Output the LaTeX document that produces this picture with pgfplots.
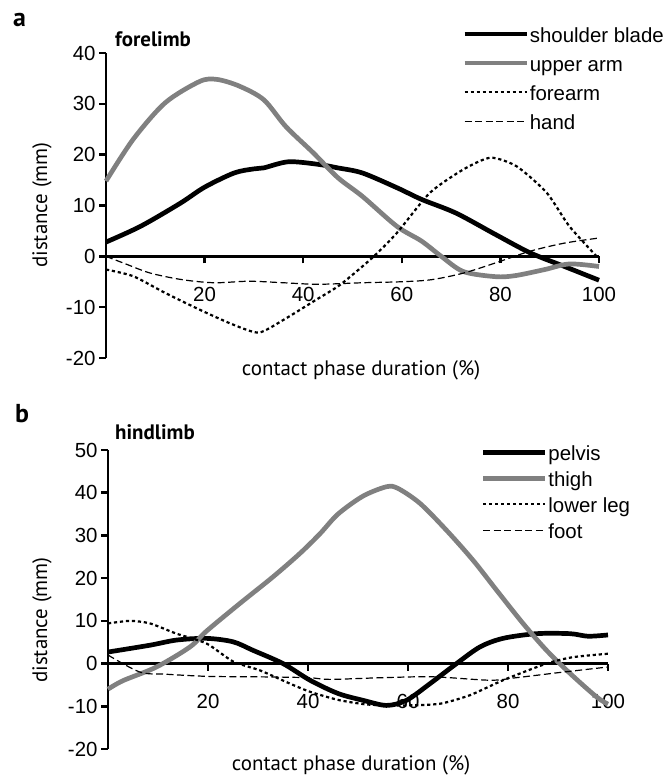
\documentclass[border=0pt]{standalone}
\usepackage{pgfplots}
\pgfplotsset{compat=1.18}
\usepackage{fontspec}
\setmainfont{Liberation Sans}
\newfontfamily\myr{PT Sans}
\definecolor{ugray}{RGB}{128,128,128}
\pgfplotsset{
  limbaxis/.style={
    scale only axis, clip=false,
    axis y line=left, axis x line=middle,
    axis line style={line width=2.5bp,-},
    tick align=outside, major tick length=7bp,
    tick style={line width=2.5bp, black},
    ticklabel style={font=\fontsize{20.5}{24}\selectfont},
    xtick={20,40,60,80,100}, xticklabels={20,40,60,80,100},
    xticklabel style={yshift=-20bp},
    xmin=0, xmax=100,
    legend image code/.code={\draw[##1] (0bp,3.5bp) -- (62bp,3.5bp);},
    legend cell align=left,
    legend style={draw=none, fill=none, anchor=north west,
      font=\fontsize{20.5}{24}\selectfont, inner sep=0pt, row sep=7bp,
      nodes={inner sep=1bp, text height=15bp, text depth=5bp}},
  },
  thickblack/.style={black, line width=4.7bp, smooth, tension=0.5},
  thickgray/.style={ugray, line width=4.7bp, smooth, tension=0.5},
  dotline/.style={black, line width=2.2bp, dash pattern=on 3.2bp off 2.8bp, smooth, tension=0.4},
  dashline/.style={black, line width=1.2bp, dash pattern=on 7bp off 3.5bp, smooth, tension=0.5},
}
\begin{document}
\begin{tikzpicture}[x=1bp,y=1bp]
\useasboundingbox (0,0) rectangle (671,777);
% ---------------- panel a
\begin{axis}[limbaxis, at={(106bp,419bp)}, anchor=south west,
  width=493bp, height=305bp, ymin=-20, ymax=40,
  ytick={-20,-10,0,10,20,30,40}, yticklabels={-20,-10,0,10,20,30,40},
  legend style={at={(axis description cs:0.722,1.087)}}]
\addplot[thickblack] coordinates {(0,2.8) (7,5.9) (15,10.4) (20,13.6) (26,16.4) (30,17.2) (32,17.4) (37,18.6) (43,18.1) (47,17.4) (52,16.4) (59,13.5) (64,11.2) (71,8.5) (79,4.3) (86,0.7) (93,-2) (100,-4.7)};
\addlegendentry{shoulder blade}
\addplot[thickgray] coordinates {(0,14.8) (5.5,23) (12,30.2) (19,34.4) (22.5,34.8) (27,33.5) (32,30.8) (36.5,25.5) (42,20.4) (47,15.5) (52,11.8) (59,5.9) (64,3) (68,0) (72.5,-3) (79,-4) (83,-3.8) (89,-2.6) (94,-1.5) (100,-2)};
\addlegendentry{upper arm}
\addplot[dotline] coordinates {(0,-2.6) (5.5,-3.9) (12,-7.2) (19,-10.5) (25.7,-13.4) (31,-15) (36,-12.5) (42.7,-8.5) (47.5,-5.6) (54,-0.3) (59,4.6) (65.7,12.5) (72.5,17.1) (78,19.4) (83.3,17.7) (89.4,12.5) (94,5.9) (100,-0.5)};
\addlegendentry{forearm}
\addplot[dashline] coordinates {(0,0) (4,-1.5) (9,-3.3) (15.5,-4.6) (22,-5.2) (29,-4.9) (36,-5.2) (43,-5.5) (52,-5.2) (60,-5) (66,-4.6) (72.5,-3.3) (79,-1.3) (86,1) (93,2.6) (100,3.6)};
\addlegendentry{hand}
\end{axis}
% ---------------- panel b
\begin{axis}[limbaxis, at={(108bp,28bp)}, anchor=south west,
  width=500bp, height=299bp, ymin=-20, ymax=50,
  ytick={-20,-10,0,10,20,30,40,50}, yticklabels={-20,-10,0,10,20,30,40,50},
  legend style={at={(axis description cs:0.745,1.018)}, row sep=4bp}]
\addplot[thickblack] coordinates {(0,2.7) (8.4,4.3) (13.7,5.5) (19.7,5.9) (25,5.1) (29,3.1) (35,0) (40.4,-3.9) (46,-7) (51,-8.6) (55.7,-9.8) (59.7,-8.6) (64.4,-4.7) (69.7,0) (74.4,3.9) (79,5.9) (85.7,7) (92.4,7) (96,6.4) (100,6.7)};
\addlegendentry{pelvis}
\addplot[thickgray] coordinates {(0,-6) (3,-4) (9.7,-0.8) (16.4,3.9) (19.7,7.6) (26.4,14.1) (33,20.3) (38.4,25.8) (42.4,30.4) (46,35) (51,39.2) (55.7,41.4) (58,41) (62.4,37.5) (67.7,31.2) (73,24.2) (77.7,17.2) (83,9.4) (87.7,3.1) (92.4,-2.3) (97.7,-7.8) (100,-9.5)};
\addlegendentry{thigh}
\addplot[dotline] coordinates {(0,9.4) (4.4,10) (8.4,9.4) (13.7,7) (19.7,4.7) (25,0.5) (30.4,-1.6) (36.4,-4.7) (40.4,-6.6) (46,-8.5) (52,-9.6) (59.7,-9.8) (66.4,-9.4) (72.4,-7.4) (79,-3.9) (87.7,0) (93,1.5) (100,2.3)};
\addlegendentry{lower leg}
\addplot[dashline] coordinates {(0,2) (6.4,-2) (11.7,-2.5) (20,-3) (30,-3.1) (40,-3.3) (44.4,-3.7) (55,-3.3) (65,-3.1) (76.4,-3.9) (81.7,-3.3) (91,-2) (100,-0.8)};
\addlegendentry{foot}
\end{axis}
% ---------------- texts
\node[anchor=base west, font=\myr\bfseries\fontsize{26}{28}\selectfont, inner sep=0] at (13,750) {a};
\node[anchor=base west, font=\myr\bfseries\fontsize{21}{24}\selectfont, inner sep=0] at (115,730) {forelimb};
\node[anchor=base west, font=\myr\bfseries\fontsize{26}{28}\selectfont, inner sep=0] at (15,354) {b};
\node[anchor=base west, font=\myr\bfseries\fontsize{21}{24}\selectfont, inner sep=0] at (115,337) {hindlimb};
\node[rotate=90, font=\myr\fontsize{21}{24}\selectfont, inner sep=0] at (42,572) {distance (mm)};
\node[rotate=90, font=\myr\fontsize{21}{24}\selectfont, inner sep=0] at (42,157) {distance (mm)};
\node[font=\myr\fontsize{21}{24}\selectfont, inner sep=0] at (361,407) {contact phase duration (\%)};
\node[font=\myr\fontsize{21}{24}\selectfont, inner sep=0] at (351,12) {contact phase duration (\%)};
\end{tikzpicture}
\end{document}
